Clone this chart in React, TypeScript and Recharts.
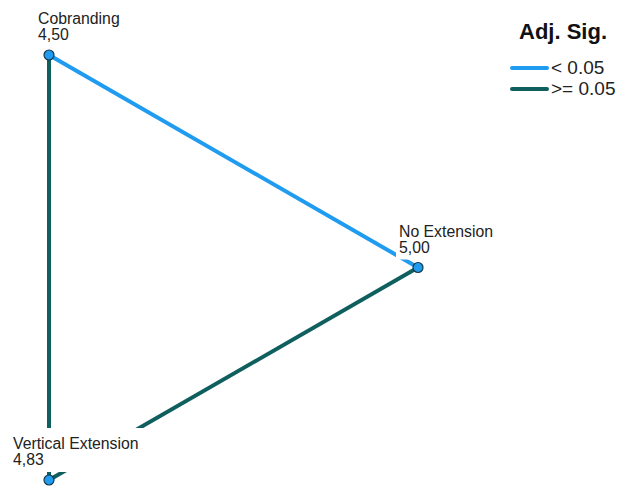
import { ScatterChart, Scatter, XAxis, YAxis } from 'recharts';

// nodes of the pairwise comparison graph
const nodeNames = ['Cobranding', 'No Extension', 'Vertical Extension'];
const nodeMeans = ['4,50', '5,00', '4,83'];
const nodeX = [0, 1, 0];
const nodeY = [1, 0.5, 0];

// edges: [from, to], significant (adj. p < 0.05) or not
const edgePairs = [[0, 2], [2, 1], [0, 1]];
const edgeSig = [false, false, true];

const BLUE = '#1f9bf0';
const TEAL = '#0f5f5e';
const FONT = '"Liberation Sans", Arial, sans-serif';

const labelShift: Record<string, number> = {
  'Cobranding': -11,
  'No Extension': -19,
  'Vertical Extension': -36,
};

const nodes = nodeNames.map((name, i) => ({ name, mean: nodeMeans[i], x: nodeX[i], y: nodeY[i] }));
const edges = edgePairs.map(([a, b], i) => ({ data: [nodes[a], nodes[b]], sig: edgeSig[i] }));

function NodeShape(props: any) {
  const { cx, cy, payload } = props;
  const dx = labelShift[payload.name] ?? -12;
  const left = cx + dx;
  const w = payload.name.length * 8 + 6;
  return (
    <g>
      <rect x={left - 3} y={cy - 52} width={w} height={44} fill="#fff" />
      <text x={left} y={cy - 31} fontSize={15.8} fontFamily={FONT} fill="#222">{payload.name}</text>
      <text x={left} y={cy - 15} fontSize={15.8} fontFamily={FONT} fill="#222">{payload.mean}</text>
      <circle cx={cx} cy={cy} r={5} fill={BLUE} stroke="#17384a" strokeWidth={1.2} />
    </g>
  );
}

export default function App() {
  return (
    <div style={{ position: 'absolute', left: 0, top: 0, width: 620, height: 486, background: '#fff' }}>
      <ScatterChart width={620} height={486} margin={{ top: 55, right: 202, bottom: 6, left: 49 }}>
        <XAxis type="number" dataKey="x" domain={[0, 1]} hide />
        <YAxis type="number" dataKey="y" domain={[0, 1]} hide />
        {edges.map((e, i) => (
          <Scatter
            key={i}
            data={e.data}
            line={{ stroke: e.sig ? BLUE : TEAL, strokeWidth: 4 }}
            shape={() => <g />}
            isAnimationActive={false}
          />
        ))}
        <Scatter data={nodes} shape={NodeShape} isAnimationActive={false} />
      </ScatterChart>
      <div style={{ position: 'absolute', left: 500, top: 17, width: 120, fontFamily: FONT }}>
        <div style={{ fontSize: 22, fontWeight: 'bold', color: '#111', marginLeft: 19, lineHeight: '30px', marginBottom: 10 }}>Adj. Sig.</div>
        {[['< 0.05', BLUE], ['>= 0.05', TEAL]].map(([t, c]) => (
          <div key={t} style={{ display: 'flex', alignItems: 'center', height: 21, fontSize: 19, color: '#222' }}>
            <div style={{ width: 39, height: 4, borderRadius: 2, background: c, marginLeft: 10, marginRight: 2 }} />
            <span>{t}</span>
          </div>
        ))}
      </div>
    </div>
  );
}
